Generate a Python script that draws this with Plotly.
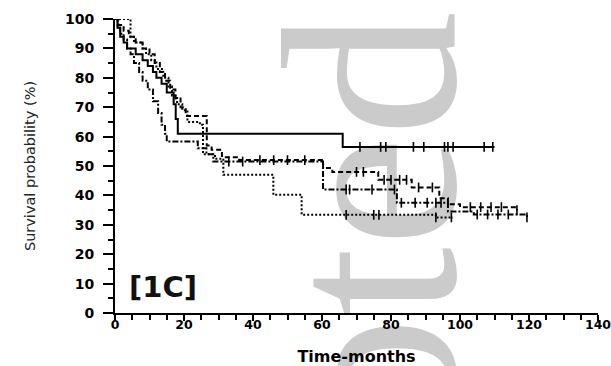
import plotly.graph_objects as go

# ---------------- data ----------------
solid_t = [0, 0.7, 1.5, 2.5, 3.5, 6, 8, 9.5, 11, 12, 13.5, 15, 17, 17.6, 18.2, 66, 110]
solid_s = [100, 97, 94, 92, 90, 88, 86, 84, 82, 80, 78, 75, 71, 66, 61, 56.5, 56.5]
solid_cens_t = [71, 77, 78.5, 86.5, 89.5, 95.5, 96.5, 98, 107, 109.5]
solid_cens_s = [56.5] * 10

dash_t = [0, 1, 2.5, 4, 6, 8, 10, 11.5, 13, 14.5, 16, 17.5, 19, 20.5, 26.6, 28, 31, 36,
          60.3, 63, 76.3, 86, 94, 96.5, 100, 116.5]
dash_s = [100, 98, 96, 94, 92, 90, 88, 85, 82, 79, 76, 73, 70, 67, 57, 55.5, 53, 52,
          49.3, 48, 45.3, 42.7, 39, 37, 36, 35]
dash_cens_t = [42, 46, 50, 55, 70, 72, 78, 80, 82.5, 84.5, 88, 92, 103, 106, 109, 112, 116.5]
dash_cens_s = [52, 52, 52, 52, 48, 48, 45.3, 45.3, 45.3, 45.3, 42.7, 42.7, 36, 36, 36, 36, 35]

dot_t = [0, 4.5, 5.5, 8, 9, 10.5, 12, 14, 15.5, 16.5, 18, 19.5, 21, 24.6, 25.5, 29, 31.4,
         45.9, 54.1, 93, 98]
dot_s = [100, 94, 92, 90, 88, 86, 83, 80, 77, 74, 71, 69, 65, 64, 54, 52.5, 47,
         40.2, 33.4, 32.5, 32.5]
dot_cens_t = [67, 75, 76.5, 93, 97.5]
dot_cens_s = [33.4, 33.4, 33.4, 32.5, 32.5]

dd_t = [0, 0.8, 1.5, 2.5, 3.5, 4.5, 5.5, 7, 8, 9.5, 11, 12.5, 13.5, 14.5, 15, 24, 26.5,
        28.5, 60.3, 81.7, 96.5, 104, 119.4]
dd_s = [100, 97, 95, 93, 90, 88, 85, 82, 79, 76, 72, 68, 64, 61, 58.3, 56, 54,
        51.5, 42, 37.5, 34.5, 33.5, 32.5]
dd_cens_t = [33, 37, 67, 68, 74.5, 81, 83, 87, 90.5, 93, 94.5, 105, 108, 111, 114, 119.4]
dd_cens_s = [51.5, 51.5, 42, 42, 42, 42, 37.5, 37.5, 37.5, 37.5, 37.5, 33.5, 33.5, 33.5, 33.5, 32.5]

x_ticks = [0, 20, 40, 60, 80, 100, 120, 140]
y_ticks = [0, 10, 20, 30, 40, 50, 60, 70, 80, 90, 100]

# ---------------- figure ----------------
W, H = 611, 366
ML, MR, MT, MB = 115, 13, 19, 53
PW, PH = W - ML - MR, H - MT - MB

fig = go.Figure()

curves = [
    (solid_t, solid_s, solid_cens_t, solid_cens_s, "solid"),
    (dash_t, dash_s, dash_cens_t, dash_cens_s, "5px,3px"),
    (dot_t, dot_s, dot_cens_t, dot_cens_s, "2px,2px"),
    (dd_t, dd_s, dd_cens_t, dd_cens_s, "6px,2px,2px,2px"),
]
for t, s, ct, cs, dash in curves:
    fig.add_trace(go.Scatter(x=t, y=s, mode="lines", line=dict(color="black", width=2, dash=dash, shape="hv"),
                             cliponaxis=False, showlegend=False, hoverinfo="skip"))
    fig.add_trace(go.Scatter(x=ct, y=cs, mode="markers",
                             marker=dict(symbol="line-ns-open", size=7, color="black",
                                         line=dict(color="black", width=1.6)),
                             cliponaxis=False, showlegend=False, hoverinfo="skip"))

# watermark: rotated grey "Accepted" (moved beneath the data by the post script)
WM_SIZE = 250
wm_cx = 370        # px of the rotated text box centre
wm_cy = 483
fig.add_annotation(text="Accepted", textangle=-90, xref="paper", yref="paper",
                   x=(wm_cx - ML) / PW, y=1 - (wm_cy - MT) / PH, xanchor="center", yanchor="middle",
                   showarrow=False,
                   font=dict(family="Liberation Serif, Tinos, Times New Roman, Nimbus Roman, DejaVu Serif, serif",
                             size=WM_SIZE, color="#cbcbcb"))

fig.add_annotation(text="[1C]", xref="x", yref="y", x=3.6, y=8.8, xanchor="left", yanchor="middle",
                   showarrow=False, font=dict(family="DejaVu Sans", size=29, color="#111111", weight="bold"))

xtickfont = dict(family="DejaVu Sans", size=12.5, color="black", weight="bold")
ytickfont = dict(family="DejaVu Sans", size=14, color="black", weight="bold")
fig.update_xaxes(range=[0, 140], tickvals=x_ticks, ticks="outside", ticklen=6, tickwidth=2,
                 tickcolor="black", showline=True, linewidth=2, linecolor="black", showgrid=False,
                 zeroline=False, tickfont=xtickfont, ticklabeloverflow="allow",
                 minor=dict(dtick=5, ticks="outside", ticklen=5, tickwidth=2, tickcolor="black", showgrid=False),
                 title=dict(text="Time-months", standoff=16,
                            font=dict(family="DejaVu Sans", size=16, color="black", weight="bold")))
fig.update_yaxes(range=[0, 100], tickvals=y_ticks, ticks="outside", ticklen=10, tickwidth=2,
                 tickcolor="black", showline=True, linewidth=2, linecolor="black", showgrid=False,
                 zeroline=False, tickfont=ytickfont, ticklabeloverflow="allow",
                 minor=dict(dtick=5, ticks="outside", ticklen=5, tickwidth=2, tickcolor="black", showgrid=False),
                 title=dict(text="Survival probability (%)", standoff=32,
                            font=dict(family="DejaVu Sans", size=14.5, color="#222222")))

fig.update_layout(width=W, height=H, autosize=False,
                  margin=dict(l=ML, r=MR, t=MT, b=MB, autoexpand=False),
                  paper_bgcolor="white", plot_bgcolor="rgba(0,0,0,0)", showlegend=False)

post = """
document.body.style.margin = '0px';
document.body.style.overflow = 'hidden';
var gd = document.getElementById('{plot_id}');
var wm = gd.querySelector('.infolayer g.annotation[data-index="0"]');
var cart = gd.querySelector('.main-svg .cartesianlayer');
if (wm && cart) { cart.parentNode.insertBefore(wm, cart); }
gd.querySelectorAll('g.xtick').forEach(function(g){
  g.setAttribute('transform', (g.getAttribute('transform') || '') + ' translate(0,-7)');
});
gd.querySelectorAll('g.ytick').forEach(function(g){
  g.setAttribute('transform', (g.getAttribute('transform') || '') + ' translate(-6,0)');
});
"""

fig.write_html("out.html", post_script=post, config={"displayModeBar": False, "staticPlot": True})
